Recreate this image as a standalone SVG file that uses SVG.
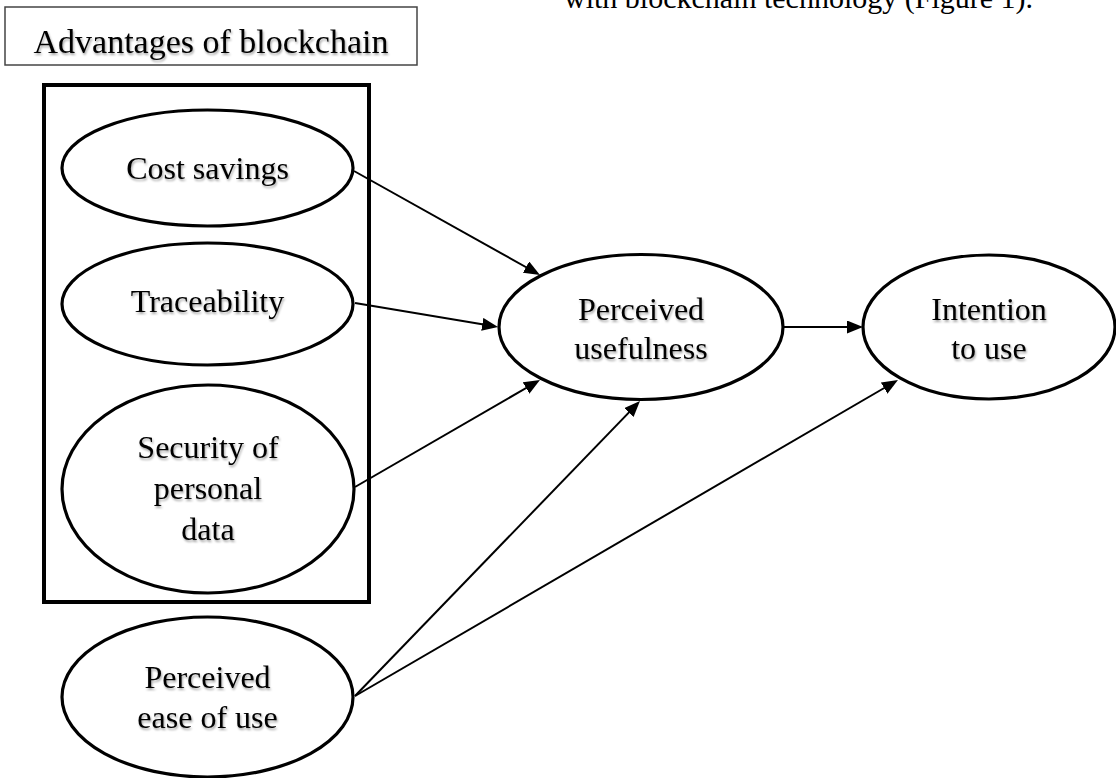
<svg xmlns="http://www.w3.org/2000/svg" width="1116" height="778" viewBox="0 0 1116 778">
<style>
.lbl{font-family:"Liberation Serif","Times New Roman",serif;font-size:32px;fill:#000;text-anchor:middle;filter:url(#shadow);}
.node{fill:#fff;stroke:#000;stroke-width:3.2;}
.conn{stroke:#000;stroke-width:2;fill:none;marker-end:url(#arrow);}
</style>
<defs>
<filter id="shadow" x="-10%" y="-30%" width="120%" height="160%">
<feGaussianBlur in="SourceAlpha" stdDeviation="1.2"/>
<feOffset dx="1" dy="1.5" result="b"/>
<feFlood flood-color="#000" flood-opacity="0.35"/>
<feComposite in2="b" operator="in" result="s"/>
<feMerge><feMergeNode in="s"/><feMergeNode in="SourceGraphic"/></feMerge>
</filter>
<marker id="arrow" markerUnits="userSpaceOnUse" markerWidth="17" markerHeight="13" refX="12" refY="6.5" orient="auto">
<path d="M0,0 L16,6.5 L0,13 z" fill="#000"/>
</marker>
</defs>
<rect width="1116" height="778" fill="#fff"/>
<text class="lbl" x="564" y="8" style="text-anchor:start;font-size:30px;filter:none">with blockchain technology (Figure 1).</text>
<g id="title">
<rect x="5" y="7" width="412" height="58" fill="#fff" stroke="#444" stroke-width="1.5"/>
<text class="lbl" x="211" y="53" style="font-size:34px">Advantages of blockchain</text>
</g>
<g id="advantages-box">
<rect x="44" y="85" width="325" height="517" fill="none" stroke="#000" stroke-width="4"/>
</g>
<g id="cost-savings">
<ellipse class="node" cx="207.5" cy="168" rx="145.5" ry="58"/>
<text class="lbl" x="207.5" y="179">Cost savings</text>
</g>
<g id="traceability">
<ellipse class="node" cx="207.5" cy="304" rx="145.5" ry="61"/>
<text class="lbl" x="207.5" y="312">Traceability</text>
</g>
<g id="security">
<ellipse class="node" cx="208" cy="489" rx="146" ry="104"/>
<text class="lbl" x="208" y="458">Security of</text>
<text class="lbl" x="208" y="499">personal</text>
<text class="lbl" x="208" y="540">data</text>
</g>
<g id="ease-of-use">
<ellipse class="node" cx="207.5" cy="697" rx="145.5" ry="80"/>
<text class="lbl" x="207.5" y="688">Perceived</text>
<text class="lbl" x="207.5" y="728">ease of use</text>
</g>
<g id="usefulness">
<ellipse class="node" cx="641" cy="327" rx="142" ry="72.5"/>
<text class="lbl" x="641" y="320">Perceived</text>
<text class="lbl" x="641" y="359">usefulness</text>
</g>
<g id="intention">
<ellipse class="node" cx="989" cy="327" rx="126" ry="72"/>
<text class="lbl" x="989" y="320">Intention</text>
<text class="lbl" x="989" y="359">to use</text>
</g>
<g id="connectors">
<line class="conn" x1="354" y1="171" x2="536.5" y2="273"/>
<line class="conn" x1="355" y1="303" x2="494.1" y2="326.3"/>
<line class="conn" x1="355" y1="487" x2="536.5" y2="382"/>
<line class="conn" x1="355" y1="696" x2="637.2" y2="403.9"/>
<line class="conn" x1="355" y1="696" x2="894.5" y2="382"/>
<line class="conn" x1="784" y1="327" x2="859" y2="327"/>
</g>
</svg>
